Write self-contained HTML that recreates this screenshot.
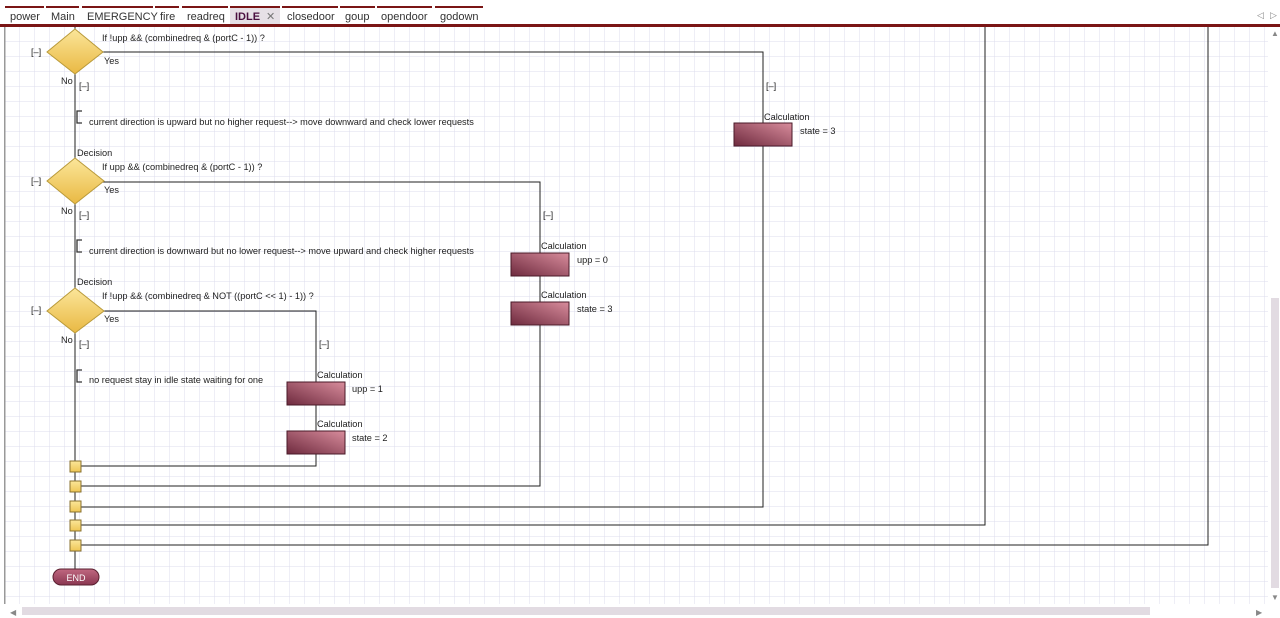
<!DOCTYPE html>
<html><head><meta charset="utf-8"><style>
html,body{margin:0;padding:0;width:1280px;height:618px;overflow:hidden;background:#fff;font-family:"Liberation Sans",Arial,sans-serif}
</style></head><body>
<svg width="1280" height="618" xmlns="http://www.w3.org/2000/svg" font-family="Liberation Sans, Arial, sans-serif">
<defs>
<pattern id="g" width="15" height="15" patternUnits="userSpaceOnUse" x="5" y="27">
<path d="M15 0V15M0 15H15" stroke="#dcdcec" stroke-width="1" fill="none"/>
</pattern>
<linearGradient id="dg" x1="0" y1="0" x2="0" y2="1"><stop offset="0" stop-color="#fbe69a"/><stop offset="1" stop-color="#e9b943"/></linearGradient>
<linearGradient id="cg" x1="0" y1="1" x2="1" y2="0"><stop offset="0" stop-color="#6e2a3e"/><stop offset="1" stop-color="#d88c9c"/></linearGradient>
<linearGradient id="eg" x1="0" y1="0" x2="0" y2="1"><stop offset="0" stop-color="#c06880"/><stop offset="1" stop-color="#8a3650"/></linearGradient>
<linearGradient id="sg" x1="0" y1="0" x2="0" y2="1"><stop offset="0" stop-color="#fbe69a"/><stop offset="1" stop-color="#eec654"/></linearGradient>
</defs>
<rect x="0" y="0" width="1280" height="27" fill="#fff"/>
<g fill="#7a1515">
<rect x="5" y="6" width="39" height="2"/><rect x="46" y="6" width="33" height="2"/><rect x="82" y="6" width="71" height="2"/><rect x="155" y="6" width="24" height="2"/><rect x="182" y="6" width="46" height="2"/><rect x="230" y="6" width="50" height="2"/><rect x="282" y="6" width="56" height="2"/><rect x="340" y="6" width="35" height="2"/><rect x="377" y="6" width="55" height="2"/><rect x="435" y="6" width="48" height="2"/>
</g>
<rect x="230" y="8" width="50" height="17" fill="#e6e0e6"/>
<g font-size="11" fill="#333">
<text x="10" y="20">power</text><text x="51" y="20">Main</text><text x="87" y="20">EMERGENCY</text><text x="160" y="20">fire</text><text x="187" y="20">readreq</text>
<text x="235" y="20" font-weight="bold" fill="#4a1040">IDLE</text><text x="266" y="20" fill="#777">✕</text>
<text x="287" y="20">closedoor</text><text x="345" y="20">goup</text><text x="381" y="20">opendoor</text><text x="440" y="20">godown</text>
</g>
<text x="1257" y="18" font-size="9" fill="#888">◁</text><text x="1270" y="18" font-size="9" fill="#888">▷</text>
<rect x="0" y="24" width="1280" height="3" fill="#7a1515"/>
<rect x="5" y="27" width="1263" height="577" fill="url(#g)"/>
<rect x="4" y="27" width="1.5" height="577" fill="#999"/>
<rect x="1270" y="27" width="10" height="577" fill="#fff"/>
<rect x="1271" y="298" width="8" height="290" fill="#e2dbe2"/>
<text x="1271" y="36" font-size="8" fill="#888">▲</text><text x="1271" y="600" font-size="8" fill="#888">▼</text>
<rect x="0" y="604" width="1280" height="14" fill="#fff"/>
<rect x="22" y="607" width="1128" height="8" fill="#e2dbe2"/>
<text x="10" y="615" font-size="8" fill="#888">◀</text><text x="1256" y="615" font-size="8" fill="#888">▶</text>
<g stroke="#222" stroke-width="1" fill="none">
<path d="M75 27V570"/>
<path d="M103 52H763V507H81"/>
<path d="M985 27V525H81"/>
<path d="M1208 27V545H81"/>
<path d="M103 182H540V486H81"/>
<path d="M103 311H316V466H81"/>
</g>
<g stroke="#333" stroke-width="1.3" fill="none">
<path d="M82 111H77V123H82"/>
<path d="M82 240H77V252H82"/>
<path d="M82 370H77V382H82"/>
</g>
<g stroke="#b99a3a" stroke-width="1" fill="url(#dg)">
<polygon points="75,29 103,52 75,74 47,52"/>
<polygon points="75,158 104,181 75,204 47,181"/>
<polygon points="75,288 104,311 75,333 47,311"/>
</g>
<g stroke="#8a7230" fill="url(#sg)">
<rect x="70" y="461" width="11" height="11"/><rect x="70" y="481" width="11" height="11"/><rect x="70" y="501" width="11" height="11"/><rect x="70" y="520" width="11" height="11"/><rect x="70" y="540" width="11" height="11"/>
</g>
<g stroke="#4a1a28" fill="url(#cg)">
<rect x="734" y="123" width="58" height="23"/>
<rect x="511" y="253" width="58" height="23"/>
<rect x="511" y="302" width="58" height="23"/>
<rect x="287" y="382" width="58" height="23"/>
<rect x="287" y="431" width="58" height="23"/>
</g>
<rect x="53" y="569" width="46" height="16" rx="8" fill="url(#eg)" stroke="#5a2030"/>
<text x="76" y="581" font-size="9" fill="#fff" text-anchor="middle">END</text>
<g font-size="9.2" fill="#222">
<text x="102" y="41">If  !upp &amp;&amp; (combinedreq &amp; (portC - 1)) ?</text>
<text x="104" y="64">Yes</text>
<text x="31" y="55">[–]</text>
<text x="61" y="84">No</text><text x="79" y="89">[–]</text>
<text x="89" y="125">current direction is upward but no higher request--&gt; move downward and check lower requests</text>
<text x="77" y="156">Decision</text>
<text x="102" y="170">If  upp &amp;&amp; (combinedreq &amp; (portC - 1)) ?</text>
<text x="104" y="193">Yes</text>
<text x="31" y="184">[–]</text>
<text x="61" y="214">No</text><text x="79" y="218">[–]</text>
<text x="89" y="254">current direction is downward but no lower request--&gt; move upward and check higher requests</text>
<text x="77" y="285">Decision</text>
<text x="102" y="299">If  !upp &amp;&amp; (combinedreq &amp; NOT ((portC &lt;&lt; 1) - 1)) ?</text>
<text x="104" y="322">Yes</text>
<text x="31" y="313">[–]</text>
<text x="61" y="343">No</text><text x="79" y="347">[–]</text>
<text x="89" y="383">no request stay in idle state waiting for one</text>
<text x="766" y="89">[–]</text>
<text x="764" y="120">Calculation</text><text x="800" y="134">state = 3</text>
<text x="543" y="218">[–]</text>
<text x="541" y="249">Calculation</text><text x="577" y="263">upp = 0</text>
<text x="541" y="298">Calculation</text><text x="577" y="312">state = 3</text>
<text x="319" y="347">[–]</text>
<text x="317" y="378">Calculation</text><text x="352" y="392">upp = 1</text>
<text x="317" y="427">Calculation</text><text x="352" y="441">state = 2</text>
</g>
</svg>
</body></html>
